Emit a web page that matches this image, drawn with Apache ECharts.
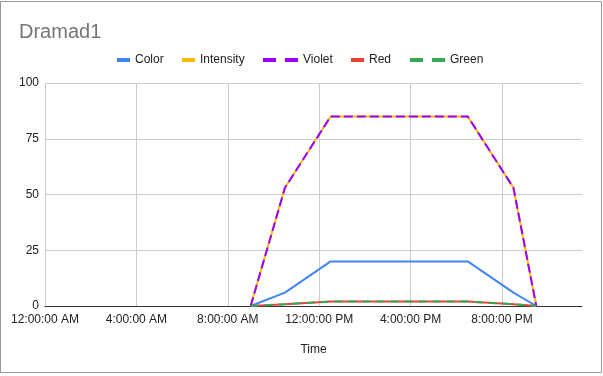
<!DOCTYPE html>
<html>
<head>
<meta charset="utf-8">
<script src="https://cdn.jsdelivr.net/npm/echarts@6/dist/echarts.min.js"></script>
<style>
html,body{margin:0;padding:0;background:#fff;}
#chart{width:603px;height:376px;}
</style>
</head>
<body>
<div id="chart"></div>
<script>
// Data
var timesHours = [9, 10.5, 12.5, 18.5, 20.5, 21.5];
var colorVals = [0, 6, 20, 20, 6, 0];
var intensityVals = [0, 53, 85, 85, 53, 0];
var violetVals = [0, 53, 85, 85, 53, 0];
var redVals = [0, 0.8, 2, 2, 0.8, 0];
var greenVals = [0, 0.8, 2, 2, 0.8, 0];
var xTickLabels = ['12:00:00 AM', '4:00:00 AM', '8:00:00 AM', '12:00:00 PM', '4:00:00 PM', '8:00:00 PM'];
var seriesNames = ['Color', 'Intensity', 'Violet', 'Red', 'Green'];
var seriesColors = ['#4285F4', '#FBBC04', '#9900FF', '#EA4335', '#34A853'];

var FONT = "Arial, 'Liberation Sans', sans-serif";

function pairs(vals) {
  return timesHours.map(function (t, i) { return [t, vals[i]]; });
}

var solidIcon = 'path://M0,0h13v4h-13z';
var dashIcon = 'path://M0,0h13v4h-13zM22,0h13v4h-13z';

function legendFor(name, left, icon, w) {
  return {
    data: [name],
    left: left,
    top: 54,
    padding: 0,
    icon: icon,
    itemWidth: w,
    itemHeight: 4,
    itemStyle: { borderWidth: 0 },
    selectedMode: false,
    textStyle: { fontFamily: FONT, fontSize: 12, color: '#222' }
  };
}

var chart = echarts.init(document.getElementById('chart'), null, { renderer: 'canvas' });
chart.setOption({
  animation: false,
  backgroundColor: '#fff',
  title: {
    text: 'Dramad1',
    left: 19,
    top: 22,
    padding: 0,
    textStyle: { fontFamily: FONT, fontSize: 20, fontWeight: 'normal', color: '#757575' }
  },
  legend: [
    legendFor('Color', 117, solidIcon, 13),
    legendFor('Intensity', 182, solidIcon, 13),
    legendFor('Violet', 263, dashIcon, 35),
    legendFor('Red', 351, solidIcon, 13),
    legendFor('Green', 410, dashIcon, 35)
  ],
  grid: { left: 45, right: 21, top: 83, bottom: 70, containLabel: false },
  xAxis: {
    type: 'value',
    min: 0,
    max: 23.5,
    interval: 4,
    name: 'Time',
    nameLocation: 'middle',
    nameGap: 38,
    nameTextStyle: { fontFamily: FONT, fontSize: 12, color: '#222' },
    axisLine: { show: true, lineStyle: { color: '#333', width: 1 } },
    axisTick: { show: false },
    axisLabel: {
      fontFamily: FONT, fontSize: 12, color: '#222', margin: 8,
      showMaxLabel: false,
      formatter: function (v) {
        var i = Math.round(v / 4);
        return (Math.abs(v - i * 4) < 1e-6 && xTickLabels[i]) ? xTickLabels[i] : '';
      }
    },
    splitLine: { show: true, showMaxLine: false, lineStyle: { color: '#cccccc', width: 1 } }
  },
  yAxis: {
    type: 'value',
    min: 0,
    max: 100,
    interval: 25,
    axisLine: { show: false },
    axisTick: { show: false },
    axisLabel: { fontFamily: FONT, fontSize: 12, color: '#222', margin: 6 },
    splitLine: { show: true, lineStyle: { color: '#cccccc', width: 1 } }
  },
  series: [
    { name: seriesNames[0], type: 'line', data: pairs(colorVals), color: seriesColors[0], showSymbol: false, symbol: 'none',
      lineStyle: { width: 2, color: seriesColors[0] } },
    { name: seriesNames[1], type: 'line', data: pairs(intensityVals), color: seriesColors[1], showSymbol: false, symbol: 'none',
      lineStyle: { width: 2, color: seriesColors[1] } },
    { name: seriesNames[2], type: 'line', data: pairs(violetVals), color: seriesColors[2], showSymbol: false, symbol: 'none',
      lineStyle: { width: 2, color: seriesColors[2], type: [9, 4] } },
    { name: seriesNames[3], type: 'line', data: pairs(redVals), color: seriesColors[3], showSymbol: false, symbol: 'none',
      lineStyle: { width: 2, color: seriesColors[3] } },
    { name: seriesNames[4], type: 'line', data: pairs(greenVals), color: seriesColors[4], showSymbol: false, symbol: 'none',
      lineStyle: { width: 2, color: seriesColors[4], type: [8, 6] } }
  ],
  graphic: [{
    type: 'rect',
    silent: true,
    z: 100,
    shape: { x: 0.5, y: 1.5, width: 601, height: 371 },
    style: { fill: 'none', stroke: '#9a9a9a', lineWidth: 1 }
  }]
});
</script>
</body>
</html>
